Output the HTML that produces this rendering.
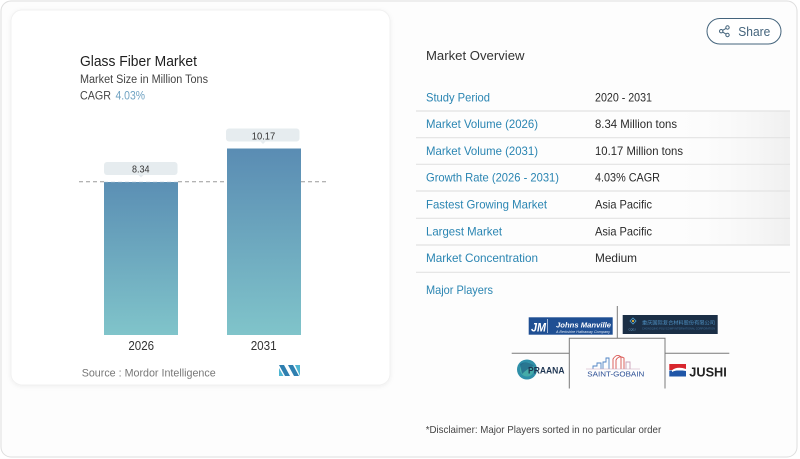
<!DOCTYPE html>
<html><head><meta charset="utf-8"><style>
html,body{margin:0;padding:0;background:#fff;}
svg{display:block;}
text{font-family:"Liberation Sans","Noto Sans CJK SC",sans-serif;}
</style></head><body>
<svg width="800" height="459" viewBox="0 0 800 459" xmlns="http://www.w3.org/2000/svg">
<defs>
<linearGradient id="bar" x1="0" y1="0" x2="0" y2="1">
<stop offset="0" stop-color="#5b8fb4"/><stop offset="1" stop-color="#80c4ca"/>
</linearGradient>
<linearGradient id="bar2" x1="0" y1="0" x2="0" y2="1">
<stop offset="0" stop-color="#5a8cb3"/><stop offset="1" stop-color="#80c4ca"/>
</linearGradient>
<linearGradient id="rowsh" x1="0" y1="0" x2="1" y2="0">
<stop offset="0" stop-color="#ffffff" stop-opacity="0"/><stop offset="1" stop-color="#ececec" stop-opacity="0.8"/>
</linearGradient>
<filter id="sh" x="-5%" y="-5%" width="110%" height="110%">
<feDropShadow dx="0" dy="1" stdDeviation="2" flood-color="#000" flood-opacity="0.06"/>
</filter>
</defs>
<rect x="0" y="0" width="800" height="459" fill="#ffffff"/>
<rect x="1" y="1" width="796" height="456" rx="10" fill="#fdfdfd" stroke="#dedede" stroke-width="1"/>
<!-- left card -->
<rect x="11" y="10" width="379" height="375" rx="11" fill="#ffffff" stroke="#f1f1f1" filter="url(#sh)"/>

<text x="80" y="66" font-size="14.5" fill="#1e1e1e" textLength="117" lengthAdjust="spacingAndGlyphs">Glass Fiber Market</text>
<text x="80" y="83" font-size="11.5" fill="#444" textLength="128" lengthAdjust="spacingAndGlyphs">Market Size in Million Tons</text>
<text x="80" y="99.5" font-size="11.5" fill="#444" textLength="31" lengthAdjust="spacingAndGlyphs">CAGR</text>
<text x="115.5" y="99.5" font-size="11.5" fill="#6fa2c2" textLength="29.5" lengthAdjust="spacingAndGlyphs">4.03%</text>

<!-- bars -->
<rect x="104" y="182" width="74" height="153" fill="url(#bar)"/>
<rect x="227" y="148.5" width="74" height="186.5" fill="url(#bar2)"/>
<line x1="79" y1="181.7" x2="104" y2="181.7" stroke="#9a9a9a" stroke-width="1" stroke-dasharray="4,3"/>
<line x1="178" y1="181.7" x2="227" y2="181.7" stroke="#9a9a9a" stroke-width="1" stroke-dasharray="4,3"/>
<line x1="301" y1="181.7" x2="328" y2="181.7" stroke="#9a9a9a" stroke-width="1" stroke-dasharray="4,3"/>
<line x1="104" y1="182.2" x2="178" y2="182.2" stroke="#8aaac2" stroke-width="1" stroke-dasharray="4,3" opacity="0.6"/>

<rect x="104" y="162" width="73.5" height="13" rx="3" fill="#e6ecef"/>
<path d="M138.5 175 L141 177.5 L143.5 175 Z" fill="#e6ecef"/>
<text x="140.8" y="172.5" font-size="10" fill="#333" text-anchor="middle" textLength="17.5" lengthAdjust="spacingAndGlyphs">8.34</text>
<rect x="226" y="128.5" width="73.5" height="13" rx="3" fill="#e6ecef"/>
<path d="M260.5 141.5 L263 144 L265.5 141.5 Z" fill="#e6ecef"/>
<text x="263.5" y="139.3" font-size="10" fill="#333" text-anchor="middle" textLength="23.5" lengthAdjust="spacingAndGlyphs">10.17</text>

<text x="141.2" y="350" font-size="12.5" fill="#333" text-anchor="middle" textLength="25.7" lengthAdjust="spacingAndGlyphs">2026</text>
<text x="263.7" y="350" font-size="12.5" fill="#333" text-anchor="middle" textLength="26" lengthAdjust="spacingAndGlyphs">2031</text>

<text x="81.7" y="376.5" font-size="11" fill="#777" textLength="134" lengthAdjust="spacingAndGlyphs">Source :  Mordor Intelligence</text>
<!-- MI logo -->
<path d="M279 365 L284 365 L290 376 L285 376 Z" fill="#2f7fb0"/>
<path d="M279 368 L283.5 376 L279 376 Z" fill="#4fb6d2"/>
<path d="M288 365 L293 365 L299 376 L294 376 Z" fill="#2f7fb0"/>
<path d="M295 365 L300 365 L300 376 Z" fill="#4fb6d2"/>

<!-- share button -->
<rect x="707" y="18.5" width="74" height="25.5" rx="12.75" fill="#fff" stroke="#44647c" stroke-width="1"/>
<g stroke="#44647c" stroke-width="1" fill="none">
<circle cx="727.5" cy="27.5" r="1.7"/>
<circle cx="721.2" cy="31.2" r="1.7"/>
<circle cx="727.5" cy="35" r="1.7"/>
<line x1="722.7" y1="30.3" x2="726" y2="28.4"/>
<line x1="722.7" y1="32.1" x2="726" y2="34.1"/>
</g>
<text x="738.3" y="36" font-size="13" fill="#44647c" textLength="32" lengthAdjust="spacingAndGlyphs">Share</text>

<text x="426" y="60" font-size="13" fill="#333" textLength="98.5" lengthAdjust="spacingAndGlyphs">Market Overview</text>

<!-- row shading -->
<rect x="660" y="111" width="130" height="134" fill="url(#rowsh)"/>

<g stroke="#e3e3e3" stroke-width="1.2">
<line x1="416" y1="111" x2="790" y2="111"/>
<line x1="416" y1="137.7" x2="790" y2="137.7"/>
<line x1="416" y1="164.3" x2="790" y2="164.3"/>
<line x1="416" y1="191" x2="790" y2="191"/>
<line x1="416" y1="218.3" x2="790" y2="218.3"/>
<line x1="416" y1="245" x2="790" y2="245"/>
<line x1="416" y1="272.3" x2="790" y2="272.3"/>
</g>

<g font-size="12" fill="#2a85b2">
<text x="426" y="101.5" textLength="64" lengthAdjust="spacingAndGlyphs">Study Period</text>
<text x="426" y="128" textLength="112" lengthAdjust="spacingAndGlyphs">Market Volume (2026)</text>
<text x="426" y="155" textLength="112" lengthAdjust="spacingAndGlyphs">Market Volume (2031)</text>
<text x="426" y="181.5" textLength="133" lengthAdjust="spacingAndGlyphs">Growth Rate (2026 - 2031)</text>
<text x="426" y="208.7" textLength="121" lengthAdjust="spacingAndGlyphs">Fastest Growing Market</text>
<text x="426" y="235.5" textLength="76" lengthAdjust="spacingAndGlyphs">Largest Market</text>
<text x="426" y="262" textLength="112" lengthAdjust="spacingAndGlyphs">Market Concentration</text>
<text x="426" y="294" textLength="67" lengthAdjust="spacingAndGlyphs">Major Players</text>
</g>
<g font-size="12" fill="#2a2a2a">
<text x="595" y="101.5" textLength="57" lengthAdjust="spacingAndGlyphs">2020 - 2031</text>
<text x="595" y="128" textLength="82" lengthAdjust="spacingAndGlyphs">8.34 Million tons</text>
<text x="595" y="155" textLength="88" lengthAdjust="spacingAndGlyphs">10.17 Million tons</text>
<text x="595" y="181.5" textLength="65" lengthAdjust="spacingAndGlyphs">4.03% CAGR</text>
<text x="595" y="208.7" textLength="57" lengthAdjust="spacingAndGlyphs">Asia Pacific</text>
<text x="595" y="235.5" textLength="57" lengthAdjust="spacingAndGlyphs">Asia Pacific</text>
<text x="595" y="262" textLength="42" lengthAdjust="spacingAndGlyphs">Medium</text>
</g>

<!-- logos grid lines -->
<g stroke="#7a7a7a" stroke-width="1" fill="none">
<line x1="617.3" y1="306" x2="617.3" y2="338.3"/>
<polyline points="569.3,388.5 569.3,338.3 665,338.3 665,388.5"/>
<line x1="511.7" y1="353.3" x2="569.3" y2="353.3"/>
<line x1="665" y1="353.3" x2="729.3" y2="353.3"/>
</g>

<!-- Johns Manville -->
<rect x="528.7" y="317.3" width="84" height="17.4" fill="#1f4f93"/>
<text x="531" y="331.5" font-size="12" font-weight="bold" font-style="italic" fill="#fff" textLength="15" lengthAdjust="spacingAndGlyphs">JM</text>
<line x1="547.5" y1="319" x2="547.5" y2="333" stroke="#fff" stroke-width="0.6"/>
<text x="556" y="327.5" font-size="7" font-weight="bold" font-style="italic" fill="#fff" textLength="55" lengthAdjust="spacingAndGlyphs">Johns Manville</text>
<text x="556" y="332.8" font-size="3.5" font-style="italic" fill="#dfe8f5" textLength="54" lengthAdjust="spacingAndGlyphs">A Berkshire Hathaway Company</text>

<!-- Chinese company -->
<rect x="622.7" y="315" width="95" height="19" fill="#1b2f46"/>
<path d="M633 318 L636 321 L633 324 L630 321 Z" fill="none" stroke="#4fa0d0" stroke-width="0.8"/>
<circle cx="633" cy="321" r="1.1" fill="#e2b23a"/>
<text x="628.5" y="330.5" font-size="2.6" fill="#6ea7cf">CQDJ</text>
<text x="642" y="324.5" font-size="5" fill="#4e8fc0" textLength="73" lengthAdjust="spacingAndGlyphs" style="font-family:'Liberation Sans','Noto Sans CJK SC',sans-serif">重庆国际复合材料股份有限公司</text>
<text x="642" y="329.5" font-size="2.4" fill="#3f6f99" textLength="73" lengthAdjust="spacingAndGlyphs">CHONGQING POLYCOMP INTERNATIONAL CORPORATION</text>

<!-- PRAANA -->
<circle cx="527" cy="369.5" r="10" fill="#2f8fa8"/>
<circle cx="527" cy="369.5" r="7" fill="#4fb6a8" opacity="0.7"/>
<path d="M520 364 Q527 360 534 366 Q528 368 522 374 Z" fill="#1e5f86" opacity="0.7"/>
<text x="528" y="373.5" font-size="9" font-weight="bold" fill="#1e3552" textLength="36.5" lengthAdjust="spacingAndGlyphs">PRAANA</text>

<!-- Saint-Gobain -->
<g stroke-width="0.9" fill="none">
<polyline points="593,369 593,366 597,366 597,363 601,363 601,369" stroke="#4f84c4"/>
<polyline points="603,369 603,362 606,362 606,358 609,358 609,369" stroke="#4f84c4"/>
<path d="M613 369 L613 359 Q617 353 621 357 L621 369" stroke="#d9534f"/>
<path d="M616 369 L616 360 Q619 355 624 358 L624 369" stroke="#d9534f"/>
<polyline points="626,369 626,362 630,362 630,369" stroke="#c9a0b8"/>
<line x1="586" y1="369" x2="640" y2="369" stroke="#c9a0b8" stroke-width="0.6"/>
</g>
<text x="587.3" y="376.7" font-size="7.5" fill="#2b4f95" textLength="57" lengthAdjust="spacingAndGlyphs">SAINT-GOBAIN</text>

<!-- JUSHI -->
<rect x="669.3" y="364" width="16.7" height="6" fill="#d8262d"/>
<rect x="669.3" y="370.5" width="16.7" height="6" fill="#1f56a7"/>
<path d="M672 370.3 Q677 366 686 369 L686 371 Q677 369 672 372 Z" fill="#fff"/>
<text x="689.3" y="376.5" font-size="13" font-weight="bold" fill="#222" textLength="37.5" lengthAdjust="spacingAndGlyphs">JUSHI</text>

<text x="425.7" y="433" font-size="10.5" fill="#444" textLength="235.5" lengthAdjust="spacingAndGlyphs">*Disclaimer: Major Players sorted in no particular order</text>
</svg>
</body></html>
